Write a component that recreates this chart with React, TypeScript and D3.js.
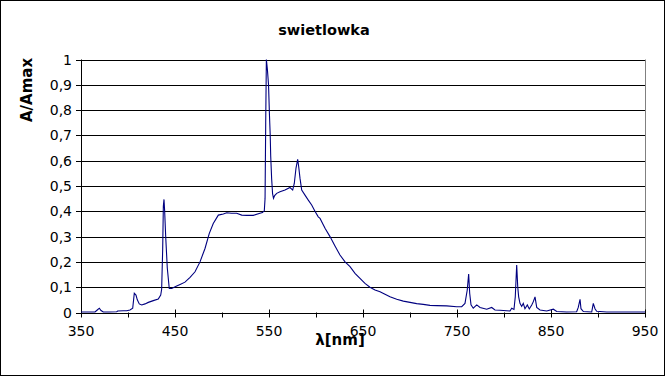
import React from "react";
import * as d3 from "d3";

const wavelengths: number[] = [
  350, 358, 364.9, 367.3, 369.5, 371.3, 373.7, 380, 388.0, 389.0, 395, 398.6, 402.1, 405.0,
  406.7, 408.5, 409.9, 412.0, 414.6, 418.1, 421.6, 426.9, 432.2, 434.8, 435.8, 436.9, 437.6,
  438.3, 439.0, 440.1, 441.8, 443.9, 446.5, 451.8, 456, 460.6, 466.0, 471.3, 476.6, 481.9,
  486.5, 490.7, 496.1, 501.4, 505.0, 510, 515.6, 521.0, 526.3, 533.3, 540.4, 543, 545.0,
  545.8, 546.5, 547.2, 548.3, 549.5, 550.5, 551.3, 551.8, 552.8, 553.8, 554.8, 556, 558.2,
  561.7, 567.0, 572.3, 575.2, 576.9, 578.7, 580.5, 581.6, 583.0, 584.8, 588.3, 591.8, 595.4,
  598.9, 602.4, 604.3, 609.6, 614.9, 620.2, 625.5, 630.9, 636.2, 641.5, 646.8, 652.1, 657.4,
  662.8, 668.1, 673.4, 678.7, 685.9, 692.9, 700.0, 707.1, 714.1, 721.3, 728.4, 739.0, 749.7,
  755.0, 758.5, 760.9, 762.4, 763.5, 764.9, 767.3, 771.0, 774.5, 781.6, 786.9, 790.4, 795.7,
  806.4, 808.2, 810.6, 812.0, 813.5, 814.6, 815.6, 817.0, 818.8, 820.5, 822.3, 824.8, 826.9,
  829.5, 831.2, 833.0, 834.8, 838.3, 845.4, 852.5, 856.1, 866.7, 877.3, 879.0, 880.9, 881.9,
  884.4, 893.3, 895.0, 896.8, 898.6, 909.3, 927.0, 950,
];

const intensities: number[] = [
  0.002, 0.002, 0.002, 0.01, 0.017, 0.008, 0.002, 0.002, 0.003, 0.006, 0.007, 0.007, 0.01, 0.017,
  0.076, 0.069, 0.05, 0.034, 0.03, 0.034, 0.04, 0.047, 0.053, 0.069, 0.092, 0.25, 0.42,
  0.447, 0.40, 0.30, 0.176, 0.095, 0.095, 0.105, 0.112, 0.12, 0.139, 0.161, 0.2, 0.253,
  0.313, 0.352, 0.385, 0.389, 0.394, 0.392, 0.392, 0.385, 0.384, 0.384, 0.392, 0.395, 0.402,
  0.45, 0.75, 1.0, 0.96, 0.9, 0.78, 0.7, 0.62, 0.53, 0.47, 0.451, 0.462, 0.471,
  0.477, 0.484, 0.494, 0.484, 0.51, 0.57, 0.605, 0.576, 0.53, 0.484, 0.464, 0.444, 0.425,
  0.40, 0.378, 0.372, 0.333, 0.30, 0.263, 0.227, 0.2, 0.181, 0.155, 0.135, 0.115, 0.10,
  0.089, 0.082, 0.072, 0.062, 0.052, 0.045, 0.04, 0.035, 0.032, 0.028, 0.027, 0.026, 0.023,
  0.023, 0.036, 0.089, 0.152, 0.076, 0.03, 0.017, 0.03, 0.02, 0.013, 0.02, 0.01, 0.009,
  0.006, 0.017, 0.012, 0.062, 0.188, 0.102, 0.062, 0.036, 0.024, 0.036, 0.015, 0.03, 0.014,
  0.03, 0.043, 0.062, 0.02, 0.01, 0.006, 0.013, 0.004, 0.002, 0.003, 0.02, 0.052, 0.015,
  0.004, 0.002, 0.036, 0.015, 0.005, 0.002, 0.002, 0.002,
];

const yTicks: number[] = [0, 0.1, 0.2, 0.3, 0.4, 0.5, 0.6, 0.7, 0.8, 0.9, 1];
const xMajorTicks: number[] = [350, 450, 550, 650, 750, 850, 950];
const xMinorTicks: number[] = [400, 500, 600, 700, 800, 900];

const W = 665;
const H = 376;
const left = 81;
const right = 645;
const top = 59.5;
const bottom = 312.5;

export default function App() {
  const x = d3.scaleLinear().domain([350, 950]).range([left, right]);
  const y = d3.scaleLinear().domain([0, 1]).range([bottom, top]);
  const pts: [number, number][] = wavelengths.map((w, i) => [w, intensities[i]]);
  const line = d3
    .line<[number, number]>()
    .x((d) => x(d[0]))
    .y((d) => y(d[1]))
    .curve(d3.curveLinear);
  const font = "DejaVu Sans, Verdana, sans-serif";
  const fmt = (v: number) => (v === 0 || v === 1 ? String(v) : v.toFixed(1).replace(".", ","));
  return (
    <svg
      width={W}
      height={H}
      style={{ position: "absolute", left: 0, top: 0, display: "block" }}
      fontFamily={font}
    >
      <rect x={0} y={0} width={W} height={H} fill="#fff" />
      <rect x={0.5} y={0.5} width={W - 1} height={H - 1} fill="none" stroke="#000" />
      {yTicks.map((t) => (
        <line
          key={"g" + t}
          x1={left}
          x2={right}
          y1={Math.round(y(t)) + 0.5}
          y2={Math.round(y(t)) + 0.5}
          stroke="#000"
          strokeWidth={1}
        />
      ))}
      <line x1={right + 0.5} x2={right + 0.5} y1={top} y2={bottom} stroke="#808080" />
      <line x1={left + 0.5} x2={left + 0.5} y1={top} y2={bottom + 0.5} stroke="#000" />
      {yTicks.map((t) => (
        <g key={"yt" + t}>
          <line
            x1={left - 5}
            x2={left}
            y1={Math.round(y(t)) + 0.5}
            y2={Math.round(y(t)) + 0.5}
            stroke="#000"
          />
          <text x={72} y={y(t)} dy="0.36em" textAnchor="end" fontSize={14} fill="#000">
            {fmt(t)}
          </text>
        </g>
      ))}
      {xMajorTicks.map((t) => (
        <g key={"xt" + t}>
          <line
            x1={Math.round(x(t)) + 0.5}
            x2={Math.round(x(t)) + 0.5}
            y1={bottom - 3}
            y2={bottom + 5}
            stroke="#000"
          />
          <text x={x(t)} y={336} textAnchor="middle" fontSize={14} fill="#000">
            {t}
          </text>
        </g>
      ))}
      {xMinorTicks.map((t) => (
        <line
          key={"xm" + t}
          x1={Math.round(x(t)) + 0.5}
          x2={Math.round(x(t)) + 0.5}
          y1={bottom}
          y2={bottom + 5}
          stroke="#000"
        />
      ))}
      <path d={line(pts) || ""} fill="none" stroke="#000080" strokeWidth={1.1} />
      <text x={324} y={35} textAnchor="middle" fontSize={14.5} fontWeight="bold" fill="#000">
        swietlowka
      </text>
      <text
        transform="translate(32,90) rotate(-90)"
        textAnchor="middle"
        fontSize={15}
        fontWeight="bold"
        fill="#000"
      >
        A/Amax
      </text>
      <text x={340} y={345} textAnchor="middle" fontSize={15} fontWeight="bold" fill="#000">
        λ[nm]
      </text>
    </svg>
  );
}
